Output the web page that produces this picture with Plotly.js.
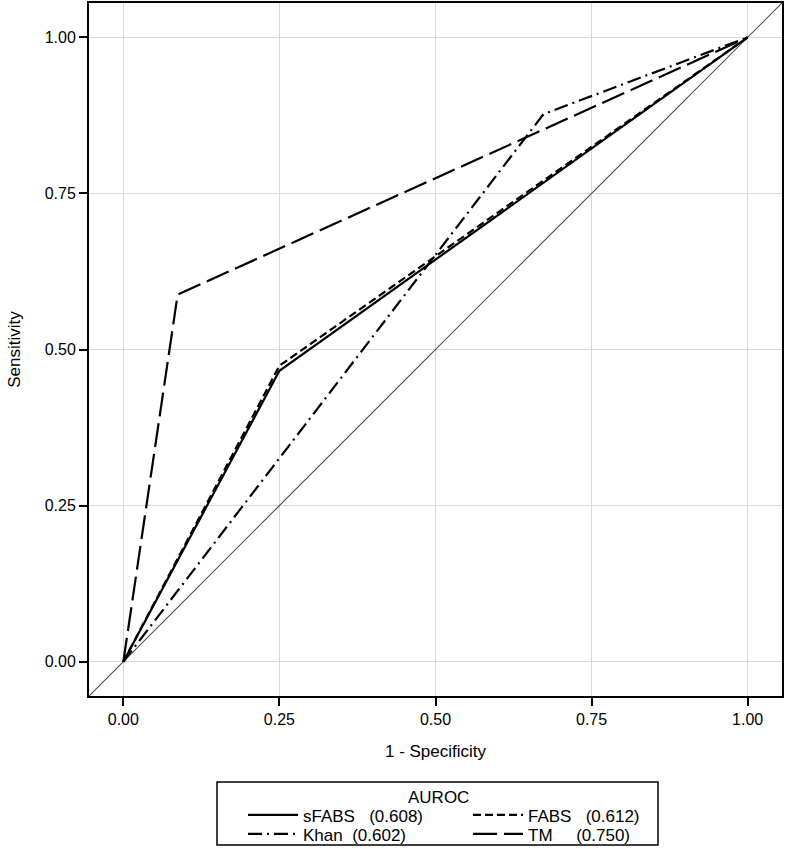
<!DOCTYPE html>
<html>
<head>
<meta charset="utf-8">
<script src="https://cdn.plot.ly/plotly-3.0.1.min.js"></script>
<style>html,body{margin:0;padding:0;background:#fff;}#chart{width:787px;height:849px;}</style>
</head>
<body>
<div id="chart"></div>
<script>
// ROC curve points (1 - Specificity, Sensitivity)
var sfabsX = [0, 0.25, 1];
var sfabsY = [0, 0.466, 1];
var fabsX = [0, 0.25, 1];
var fabsY = [0, 0.474, 1];
var khanX = [0, 0.673, 1];
var khanY = [0, 0.877, 1];
var tmX = [0, 0.087, 1];
var tmY = [0, 0.588, 1];
var refX = [-0.1, 1.1];
var refY = [-0.1, 1.1];
var seriesNames = ['sFABS\u00a0\u00a0\u00a0(0.608)', 'FABS\u00a0\u00a0\u00a0(0.612)', 'Khan\u00a0\u00a0(0.602)', 'TM\u00a0\u00a0\u00a0\u00a0\u00a0(0.750)'];
var legendTitle = 'AUROC';
var tickVals = [0, 0.25, 0.5, 0.75, 1];
var xTitle = '1 - Specificity';
var yTitle = 'Sensitivity';

var FONT = 'Liberation Sans, Arial, Helvetica, sans-serif';
var L = 89, R = 5, T = 3, B = 153, W = 787, H = 849;
var pw = W - L - R, ph = H - T - B;
function px2x(p){ return (p - L) / pw; }
function py2y(p){ return (H - B - p) / ph; }

var traces = [
  {x: refX, y: refY, mode: 'lines', line: {color: '#555555', width: 1.2}, showlegend: false, hoverinfo: 'skip'},
  {x: sfabsX, y: sfabsY, mode: 'lines', name: seriesNames[0], line: {color: '#000', width: 2.2, dash: 'solid'}, legend: 'legend'},
  {x: fabsX, y: fabsY, mode: 'lines', name: seriesNames[1], line: {color: '#000', width: 2.2, dash: '8px,4px'}, legend: 'legend2'},
  {x: khanX, y: khanY, mode: 'lines', name: seriesNames[2], line: {color: '#000', width: 2.2, dash: '14px,5px,2px,5px'}, legend: 'legend3'},
  {x: tmX, y: tmY, mode: 'lines', name: seriesNames[3], line: {color: '#000', width: 2.2, dash: '24px,7px'}, legend: 'legend4'}
];

var row1 = 815, row2 = 834, col1 = 243, col2 = 468, off = 17.6;
function leg(xp, yp){
  return {x: px2x(xp), xanchor: 'left', y: py2y(yp - off), yanchor: 'top', orientation: 'v',
          bgcolor: 'rgba(0,0,0,0)', borderwidth: 0, itemwidth: 50,
          font: {family: FONT, size: 17, color: '#000'}};
}

var axisCommon = {
  range: [-0.055, 1.055], tickvals: tickVals, tickformat: '.2f',
  ticks: 'outside', ticklen: 8, tickwidth: 2, tickcolor: '#000',
  showline: true, linewidth: 2, linecolor: '#000', mirror: true,
  showgrid: true, gridcolor: '#d9d9d9', gridwidth: 1.5, zeroline: false,
  tickfont: {family: FONT, size: 16, color: '#000'}, fixedrange: true
};

var layout = {
  width: W, height: H,
  margin: {l: L, r: R, t: T, b: B, autoexpand: false},
  paper_bgcolor: '#fff', plot_bgcolor: '#fff',
  font: {family: FONT, size: 16, color: '#000'},
  xaxis: Object.assign({}, axisCommon, {title: {text: xTitle, font: {family: FONT, size: 17, color: '#000'}, standoff: 18}}),
  yaxis: Object.assign({}, axisCommon, {title: {text: yTitle, font: {family: FONT, size: 17, color: '#000'}, standoff: 20}}),
  showlegend: true,
  legend: leg(col1, row1),
  legend2: leg(col2, row1),
  legend3: leg(col1, row2),
  legend4: leg(col2, row2),
  shapes: [{type: 'rect', xref: 'paper', yref: 'paper', x0: px2x(217), x1: px2x(658), y0: py2y(782), y1: py2y(845), line: {color: '#000', width: 1.5}, fillcolor: 'rgba(0,0,0,0)'}],
  annotations: [{text: legendTitle, xref: 'paper', yref: 'paper', x: px2x(438), y: py2y(797), xanchor: 'center', yanchor: 'middle', showarrow: false, font: {family: FONT, size: 17, color: '#000'}}]
};

Plotly.newPlot('chart', traces, layout, {displayModeBar: false, staticPlot: true});
</script>
</body>
</html>
